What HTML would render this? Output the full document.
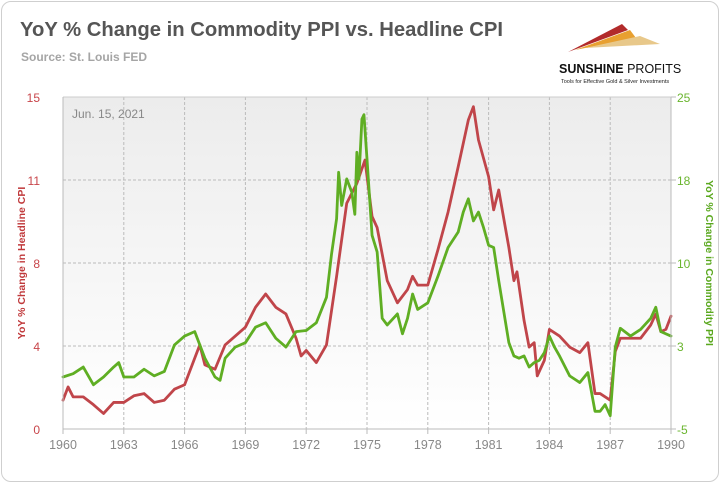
<!DOCTYPE html>
<html><head><meta charset="utf-8"><style>
body{margin:0;background:#fff;font-family:"Liberation Sans",sans-serif}
#card{position:absolute;left:1px;top:1px;width:716px;height:479px;border:1px solid #cfcfcf;border-radius:10px;background:#fff}
</style></head><body>
<div id="card"></div>
<svg id="chart" width="720" height="483" style="position:absolute;left:0;top:0">
<defs><linearGradient id="bg" x1="0" y1="0" x2="0" y2="1"><stop offset="0" stop-color="#ececec"/><stop offset="1" stop-color="#ffffff"/></linearGradient></defs>
<text x="20" y="36" font-size="20" font-weight="bold" fill="#555" textLength="483" lengthAdjust="spacingAndGlyphs">YoY % Change in Commodity PPI vs. Headline CPI</text>
<text x="21" y="61" font-size="12" font-weight="bold" fill="#a5a5a5">Source: St. Louis FED</text>
<g>
<polygon points="568,52 622,24 628,30" fill="#b22b2b"/>
<polygon points="575,50 630,30 636,38" fill="#e8a030"/>
<polygon points="585,48 640,36 660,44" fill="#e8c88a"/>
<text x="559" y="73" font-size="12.5" font-weight="bold" fill="#111">SUNSHINE <tspan font-weight="normal">PROFITS</tspan></text>
<text x="561" y="83" font-size="5.5" fill="#222">Tools for Effective Gold &amp; Silver Investments</text>
</g>
<rect x="63" y="97" width="608" height="332" fill="url(#bg)"/>
<g id="grid"></g>
<text x="72" y="118" font-size="12" fill="#888">Jun. 15, 2021</text>
<g id="series"></g>
<g id="axes"></g>
<text transform="translate(25,263) rotate(-90)" text-anchor="middle" font-size="10.5" font-weight="bold" fill="#c0393b">YoY % Change in Headline CPI</text>
<text transform="translate(706,263) rotate(90)" text-anchor="middle" font-size="10.5" font-weight="bold" fill="#5aa81e">YoY % Change in Commodity PPI</text>
</svg>
<script>
const leftTicks=["0","4","8","11","15"];
const rightTicks=["-5","3","10","18","25"];
const yearTicks=[1960,1963,1966,1969,1972,1975,1978,1981,1984,1987,1990];
const cpiYears=[1960,1960.25,1960.5,1961,1961.5,1962,1962.5,1963,1963.5,1964,1964.5,1965,1965.5,1966,1966.5,1966.75,1967,1967.5,1968,1968.5,1969,1969.5,1970,1970.5,1971,1971.5,1971.75,1972,1972.5,1973,1973.5,1974,1974.5,1974.9,1975.25,1975.5,1976,1976.5,1977,1977.25,1977.5,1978,1978.5,1979,1979.5,1980,1980.25,1980.5,1981,1981.25,1981.5,1982,1982.25,1982.4,1982.75,1983,1983.25,1983.4,1983.75,1984,1984.5,1985,1985.5,1985.9,1986.25,1986.5,1987,1987.25,1987.5,1988,1988.5,1989,1989.25,1989.5,1989.75,1990];
const cpiValues=[1.3,1.9,1.45,1.45,1.1,0.7,1.2,1.2,1.5,1.6,1.2,1.3,1.8,2.0,3.2,3.8,2.9,2.7,3.8,4.2,4.6,5.5,6.1,5.5,5.2,4.1,3.3,3.55,3.0,3.8,6.9,10.2,11.1,12.15,9.6,9.1,6.7,5.7,6.3,6.9,6.5,6.5,8.1,9.8,11.85,13.96,14.56,13.06,11.4,9.9,10.8,8.2,6.7,7.1,4.9,3.7,3.9,2.4,3.1,4.5,4.2,3.7,3.45,3.9,1.6,1.6,1.3,3.5,4.1,4.1,4.1,4.7,5.2,4.4,4.5,5.1];
const ppiYears=[1960,1960.5,1961,1961.5,1962,1962.5,1962.75,1963,1963.5,1964,1964.5,1965,1965.5,1966,1966.5,1967,1967.5,1967.75,1968,1968.5,1969,1969.5,1970,1970.5,1971,1971.5,1972,1972.5,1973,1973.25,1973.5,1973.6,1973.75,1974,1974.25,1974.4,1974.5,1974.6,1974.75,1974.85,1975,1975.25,1975.5,1975.75,1976,1976.5,1976.75,1977,1977.25,1977.5,1978,1978.5,1979,1979.5,1979.75,1980,1980.25,1980.5,1980.75,1981,1981.25,1981.5,1982,1982.25,1982.5,1982.75,1983,1983.25,1983.5,1983.75,1984,1984.25,1984.5,1985,1985.5,1985.9,1986.25,1986.5,1986.75,1987,1987.25,1987.5,1988,1988.5,1989,1989.25,1989.5,1990];
const ppiValues=[-0.3,0,0.6,-1,-0.3,0.6,1,-0.3,-0.3,0.4,-0.2,0.2,2.6,3.4,3.8,1.4,-0.3,-0.6,1.4,2.4,2.8,4.2,4.6,3.2,2.4,3.8,3.9,4.6,6.9,10.8,14,18.2,15.2,17.6,16.4,14.4,20,17.6,23,23.4,19.4,12.5,11,5,4.4,5.4,3.6,5,7.2,5.8,6.4,8.8,11.4,12.8,14.6,15.8,13.8,14.6,13.2,11.6,11.4,8.4,2.8,1.6,1.4,1.6,0.6,1,1.2,1.9,3.4,2.4,1.6,-0.2,-0.8,0.1,-3.4,-3.4,-2.8,-3.8,2.4,4.1,3.4,4,5,6,3.8,3.4];
const X0=63,X1=671,Y0=429,Y1=97;
const xs=y=>X0+(y-1960)/30*(X1-X0);
const yl=v=>Y0-v/15*(Y0-Y1);
const yr=v=>Y0-(v+5)/30*(Y0-Y1);
const NS="http://www.w3.org/2000/svg";
function mk(tag,attrs,parent){const e=document.createElementNS(NS,tag);for(const k in attrs)e.setAttribute(k,attrs[k]);parent.appendChild(e);return e;}
const grid=document.getElementById('grid'),axes=document.getElementById('axes'),series=document.getElementById('series');
leftTicks.forEach((t,i)=>{const y=Y0-i*(Y0-Y1)/4;
 if(i>0){const l=mk('line',{x1:X0,x2:X1,y1:y,y2:y,stroke:'#bbb','stroke-dasharray':'3,2'},grid);
 
 }
 const a=mk('text',{x:40,y:y+5,'text-anchor':'end','font-size':12,fill:'#c8454a'},axes);a.textContent=t;
 
 
 const b=mk('text',{x:677,y:y+5,'font-size':12,fill:'#6ab52e'},axes);b.textContent=rightTicks[i];
 
 
 mk('line',{x1:X1,x2:X1+5,y1:y,y2:y,stroke:'#bbb'},axes);
});
yearTicks.forEach((yr_,i)=>{const x=xs(yr_);
 if(i>0&&i<yearTicks.length-1){const l=mk('line',{x1:x,x2:x,y1:Y1,y2:Y0,stroke:'#bbb','stroke-dasharray':'3,2'},grid);
 
 }
 mk('line',{x1:x,x2:x,y1:Y0,y2:Y0+5,stroke:'#bbb'},axes);
 const t=mk('text',{x:x,y:449,'text-anchor':'middle','font-size':12.5,fill:'#888'},axes);t.textContent=yr_;
 
 
});
mk('line',{x1:X0,x2:X1,y1:Y1,y2:Y1,stroke:'#ccc'},grid);
mk('line',{x1:X0,x2:X0,y1:Y1,y2:Y0,stroke:'#bbb'},axes);
mk('line',{x1:X1,x2:X1,y1:Y1,y2:Y0,stroke:'#bbb'},axes);
mk('line',{x1:X0,x2:X1,y1:Y0,y2:Y0,stroke:'#bbb'},axes);
const g=mk('polyline',{points:ppiYears.map((y,i)=>xs(y)+','+yr(ppiValues[i])).join(' '),fill:'none',stroke:'#5fae23','stroke-width':2.8,'stroke-linejoin':'round','stroke-linecap':'round'},series);


const r=mk('polyline',{points:cpiYears.map((y,i)=>xs(y)+','+yl(cpiValues[i])).join(' '),fill:'none',stroke:'#c0454a','stroke-width':2.8,'stroke-linejoin':'round','stroke-linecap':'round'},series);


series.appendChild(g);
</script>
</body></html>
